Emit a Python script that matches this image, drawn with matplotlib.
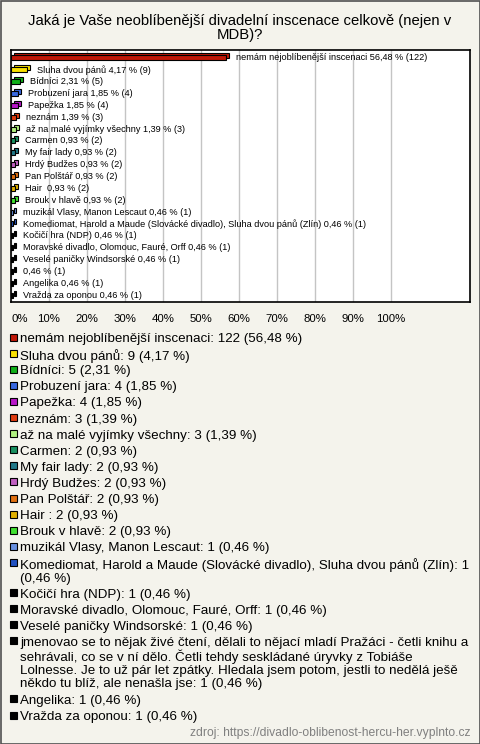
import matplotlib
matplotlib.use("Agg")
import matplotlib.pyplot as plt
import matplotlib.transforms as mtransforms
from matplotlib.patches import Rectangle
from matplotlib.font_manager import FontProperties

plt.rcParams['font.family'] = ['Liberation Sans', 'DejaVu Sans']

# data
names = ["nemám nejoblíbenější inscenaci", "Sluha dvou pánů", "Bídníci", "Probuzení jara",
         "Papežka", "neznám", "až na malé vyjímky všechny", "Carmen", "My fair lady",
         "Hrdý Budžes", "Pan Polštář", "Hair ", "Brouk v hlavě", "muzikál Vlasy, Manon Lescaut",
         "Komediomat, Harold a Maude (Slovácké divadlo), Sluha dvou pánů (Zlín)",
         "Kočičí hra (NDP)", "Moravské divadlo, Olomouc, Fauré, Orff", "Veselé paničky Windsorské",
         "",
         "Angelika", "Vražda za oponou"]
legend_names = list(names)
legend_names[18] = ("jmenovao se to nějak živé čtení, dělali to nějací mladí Pražáci - četli knihu a\n"
                    "sehrávali, co se v ní dělo. Četli tehdy seskládané úryvky z Tobiáše\n"
                    "Lolnesse. Je to už pár let zpátky. Hledala jsem potom, jestli to nedělá ješě\n"
                    "někdo tu blíž, ale nenašla jse")
counts = [122, 9, 5, 4, 4, 3, 3, 2, 2, 2, 2, 2, 2, 1, 1, 1, 1, 1, 1, 1, 1]
percents = [56.48, 4.17, 2.31, 1.85, 1.85, 1.39, 1.39, 0.93, 0.93, 0.93, 0.93, 0.93, 0.93,
            0.46, 0.46, 0.46, 0.46, 0.46, 0.46, 0.46, 0.46]
colors = ["#c01808", "#f8e000", "#10b018", "#3868e0", "#b818c8", "#e03c10", "#b0f080",
          "#189060", "#207888", "#c060c0", "#e07010", "#e0b000", "#40e030", "#6890e0",
          "#2050c0", "#000000", "#000000", "#000000", "#000000", "#000000", "#000000"]
tick_vals = [0, 10, 20, 30, 40, 50, 60, 70, 80, 90, 100]

bg = "#f4f3ec"
W, H = 480, 744
fig = plt.figure(figsize=(4.8, 7.44), dpi=100, facecolor=bg)
fig.patches.append(Rectangle((0.5 / W, 0.5 / H), 1 - 1.0 / W, 1 - 1.0 / H, transform=fig.transFigure,
                             fill=False, edgecolor="#505050", lw=1.2))

fig.text(0.5, 1 - 28.5 / H, "Jaká je Vaše neoblíbenější divadelní inscenace celkově (nejen v\nMDB)?",
         ha="center", va="center", fontsize=10.7, linespacing=1.0)

ax = fig.add_axes([11 / W, 1 - 302 / H, 459 / W, 252 / H])
ax.set_facecolor("white")
n = len(names)
ax.set_xlim(0, 120.8)
ax.set_ylim(n - 1 + 0.58, -0.67)
for t in tick_vals:
    ax.axvline(t, color="#c4c4c4", lw=1, zorder=0)
ys = list(range(n))
off = mtransforms.offset_copy(ax.transData, fig=fig, x=3, y=2, units="dots")
ax.barh(ys, percents, height=0.42, color=colors, edgecolor="black", lw=0.8, transform=off, zorder=2)
ax.barh(ys, percents, height=0.42, color=colors, edgecolor="black", lw=0.8, zorder=3)
for y, nm, p, c in zip(ys, names, percents, counts):
    lbl = (nm + " " + f"{p:.2f}".replace(".", ",") + " % (" + str(c) + ")").lstrip()
    ax.annotate(lbl, (p, y), xytext=(7.2, 0), textcoords="offset points", va="center", ha="left",
                fontsize=6.6, zorder=4)
ax.set_yticks([])
ax.set_xticks(tick_vals)
ax.set_xticklabels([f"{t}%" for t in tick_vals], fontsize=8.2)
ax.get_xticklabels()[0].set_ha("left")
ax.tick_params(axis="x", length=0, pad=9)
for s in ax.spines.values():
    s.set_linewidth(1.2)
    s.set_color("black")

# legend below the chart
fs = 9.6
renderer = fig.canvas.get_renderer()
prop = FontProperties(family=['Liberation Sans', 'DejaVu Sans'], size=fs)
maxw = 452


def wrap(s):
    lines = []
    for part in s.split("\n"):
        cur = ""
        for w in part.split(" "):
            trial = (cur + " " + w) if cur else w
            tw = renderer.get_text_width_height_descent(trial, prop, ismath=False)[0]
            if tw > maxw and cur:
                lines.append(cur)
                cur = w
            else:
                cur = trial
        lines.append(cur)
    return lines


ypx = 333
line_h = 14.0
for nm, p, c, col in zip(legend_names, percents, counts, colors):
    txt = nm + ": " + str(c) + " (" + f"{p:.2f}".replace(".", ",") + " %)"
    lines = wrap(txt)
    fig.patches.append(Rectangle((10 / W, 1 - (ypx + 7.5) / H), 7 / W, 7 / H, transform=fig.transFigure,
                                 facecolor=col, edgecolor="black", lw=0.8))
    fig.text(20 / W, 1 - ypx / H, "\n".join(lines), ha="left", va="top", fontsize=fs, linespacing=1.08)
    ypx += line_h * len(lines) + 2.1

fig.text(470 / W, 1 - 733 / H, "zdroj: https://divadlo-oblibenost-hercu-her.vyplnto.cz", ha="right",
         va="center", fontsize=8.75, color="#808080")

fig.savefig("out.png", dpi=100, facecolor=bg)
